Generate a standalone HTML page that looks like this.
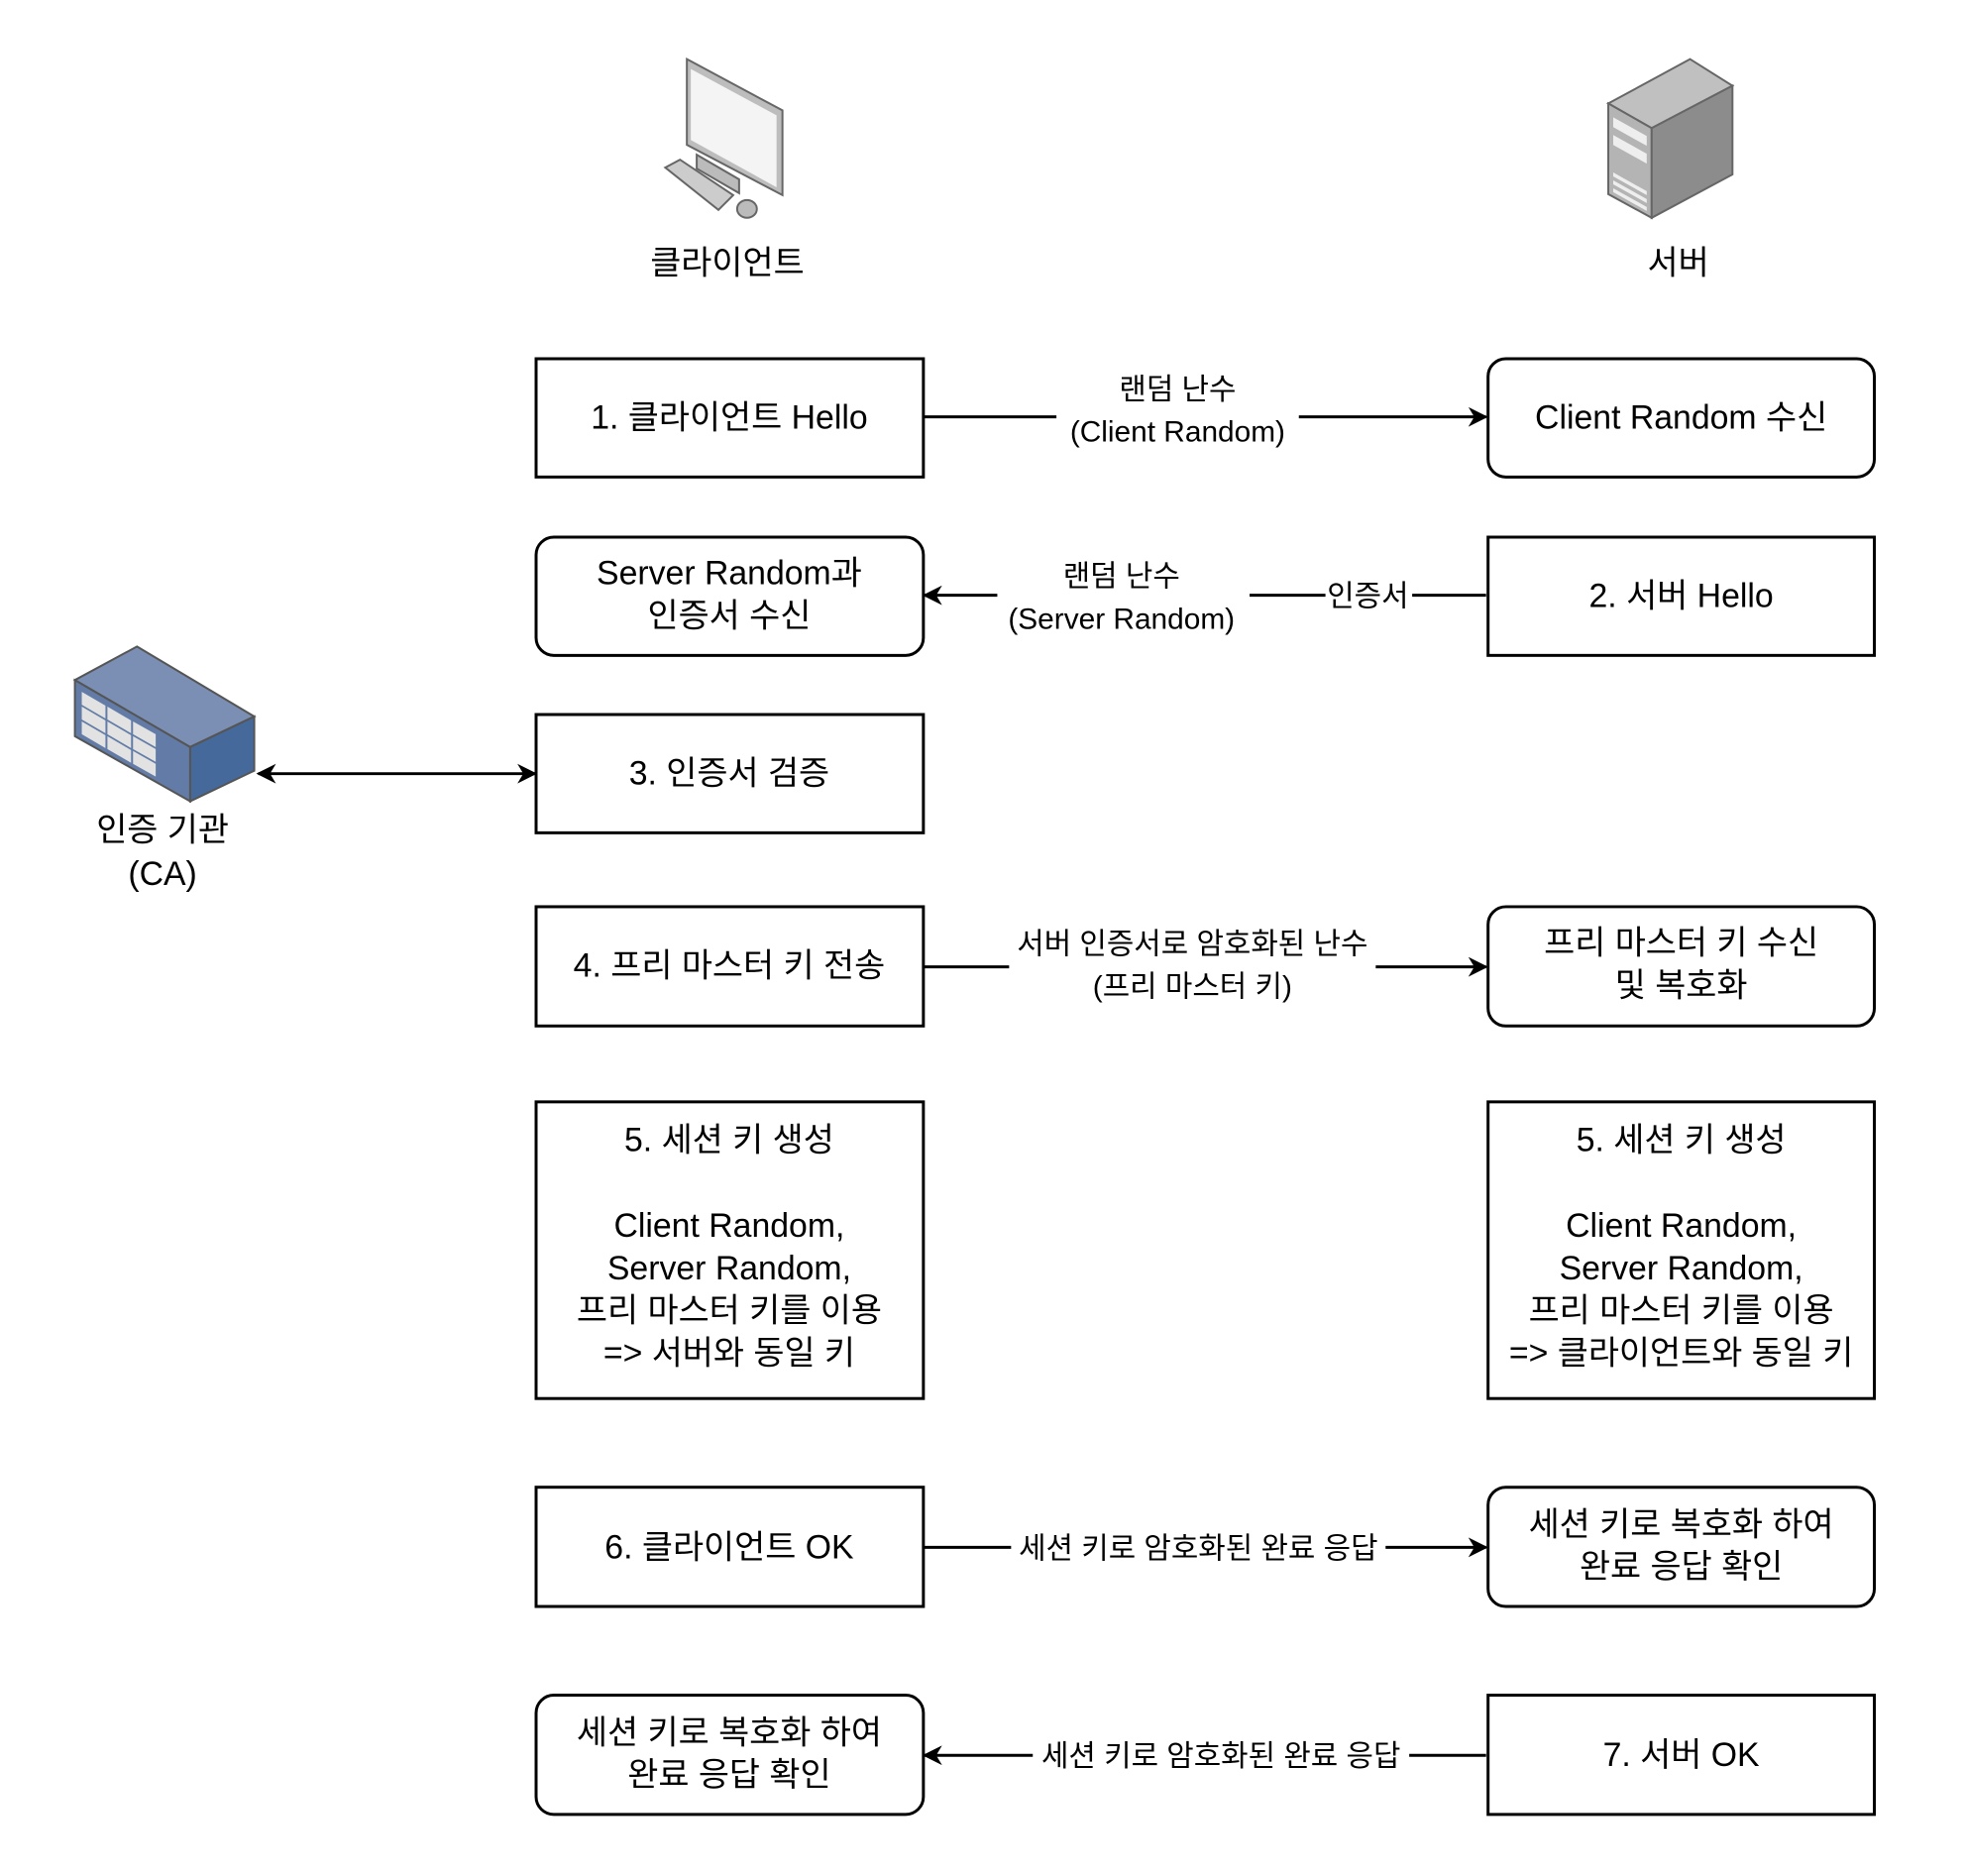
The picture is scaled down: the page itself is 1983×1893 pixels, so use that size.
<!DOCTYPE html>
<html><head><meta charset="utf-8"><style>
html,body{margin:0;padding:0;background:#fff;}
svg{display:block;}
text{font-family:"Liberation Sans","Noto Sans CJK KR","NanumGothic",sans-serif;fill:#000;}
.b{font-size:34px;}
.l{font-size:30px;}
</style></head><body>
<svg width="1983" height="1893" viewBox="0 0 1983 1893" xmlns="http://www.w3.org/2000/svg">
<defs>
<marker id="ar" viewBox="0 0 20 20" refX="18" refY="10" markerWidth="20" markerHeight="20" markerUnits="userSpaceOnUse" orient="auto-start-reverse">
<path d="M0,0 L20,10 L0,20 L6,10 Z" fill="#000"/>
</marker>
</defs>
<g transform="scale(0.9945)">
<!-- client icon -->
<g stroke="#666" stroke-width="2">
<polygon points="697,60 794,112 794,198 697,147" fill="#bdbdbd"/>
<polygon points="701,70 788,117 788,190 701,142" fill="#f4f4f4" stroke="none"/>
<polygon points="707,157 750,182 750,196 707,171" fill="#bbb"/>
<polygon points="675,170 690,162 744,198 729,213" fill="#ccc"/>
<ellipse cx="758" cy="212" rx="10" ry="9" fill="#bbb"/>
</g>
<!-- server icon -->
<g stroke="#666" stroke-width="2">
<polygon points="1715,60 1758,87 1676,130 1632,105" fill="#c0c0c0"/>
<polygon points="1632,105 1676,130 1676,221 1632,197" fill="#b4b4b4"/>
<polygon points="1676,130 1758,87 1758,177 1676,221" fill="#8c8c8c"/>
<g stroke="none" fill="#eee">
<polygon points="1637,119 1671,138 1671,148 1637,129"/>
<polygon points="1637,137 1671,156 1671,166 1637,147"/>
<polygon points="1637,175 1671,194 1671,198 1637,179"/>
<polygon points="1637,183 1671,202 1671,206 1637,187"/>
<polygon points="1637,191 1671,210 1671,214 1637,195"/>
</g>
</g>
<text class="b" x="738" y="278" text-anchor="middle">클라이언트</text>
<text class="b" x="1703" y="278" text-anchor="middle">서버</text>
<!-- CA icon -->
<g stroke="#555" stroke-width="2">
<polygon points="139,656 258,727 193,758 76,690" fill="#7b8fb4"/>
<polygon points="76,690 193,758 193,813 76,747" fill="#627ca7"/>
<polygon points="193,758 258,727 258,782 193,813" fill="#44699a"/>
<g fill="#e2e2e2" stroke="none">
<polygon points="83,702 107,716 107,729 83,715"/>
<polygon points="109,717 133,731 133,744 109,730"/>
<polygon points="135,732 158,745 158,758 135,745"/>
<polygon points="83,717 107,731 107,744 83,730"/>
<polygon points="109,732 133,746 133,759 109,745"/>
<polygon points="135,747 158,760 158,773 135,760"/>
<polygon points="83,732 107,746 107,759 83,745"/>
<polygon points="109,747 133,761 133,774 109,760"/>
<polygon points="135,762 158,775 158,788 135,775"/>
</g>
</g>
<text class="b" x="165" y="853" text-anchor="middle">인증 기관</text>
<text class="b" x="165" y="898" text-anchor="middle">(CA)</text>

<g fill="#fff" stroke="#000" stroke-width="3">
<rect x="544" y="364" width="393" height="120"/>
<rect x="1510" y="364" width="392" height="120" rx="18"/>
<rect x="544" y="545" width="393" height="120" rx="18"/>
<rect x="1510" y="545" width="392" height="120"/>
<rect x="544" y="725" width="393" height="120"/>
<rect x="544" y="920" width="393" height="121"/>
<rect x="1510" y="920" width="392" height="121" rx="18"/>
<rect x="544" y="1118" width="393" height="301"/>
<rect x="1510" y="1118" width="392" height="301"/>
<rect x="544" y="1509" width="393" height="121"/>
<rect x="1510" y="1509" width="392" height="121" rx="18"/>
<rect x="544" y="1720" width="393" height="121" rx="18"/>
<rect x="1510" y="1720" width="392" height="121"/>
</g>

<g stroke="#000" stroke-width="3" fill="none">
<line x1="938" y1="423" x2="1508" y2="423" marker-end="url(#ar)"/>
<line x1="1508" y1="604" x2="938" y2="604" marker-end="url(#ar)"/>
<line x1="262" y1="785" x2="543" y2="785" marker-start="url(#ar)" marker-end="url(#ar)"/>
<line x1="938" y1="981" x2="1508" y2="981" marker-end="url(#ar)"/>
<line x1="938" y1="1570" x2="1508" y2="1570" marker-end="url(#ar)"/>
<line x1="1508" y1="1781" x2="938" y2="1781" marker-end="url(#ar)"/>
</g>
<g fill="#fff">
<rect x="1072" y="370" width="246" height="90"/>
<rect x="1012" y="555" width="256" height="90"/>
<rect x="1345" y="585" width="88" height="40"/>
<rect x="1024" y="935" width="372" height="90"/>
<rect x="1026" y="1550" width="380" height="40"/>
<rect x="1048" y="1761" width="382" height="40"/>
</g>
<g class="l" text-anchor="middle">
<text class="l" x="1195" y="405">랜덤 난수</text>
<text class="l" x="1195" y="448">(Client Random)</text>
<text class="l" x="1138" y="595">랜덤 난수</text>
<text class="l" x="1138" y="638">(Server Random)</text>
<text class="l" x="1388" y="615">인증서</text>
<text class="l" x="1210" y="968">서버 인증서로 암호화된 난수</text>
<text class="l" x="1210" y="1011">(프리 마스터 키)</text>
<text class="l" x="1216" y="1581">세션 키로 암호화된 완료 응답</text>
<text class="l" x="1239" y="1792">세션 키로 암호화된 완료 응답</text>
</g>
<g class="b" text-anchor="middle">
<text class="b" x="740" y="435">1. 클라이언트 Hello</text>
<text class="b" x="1706" y="435">Client Random 수신</text>
<text class="b" x="740" y="593">Server Random과</text>
<text class="b" x="740" y="636">인증서 수신</text>
<text class="b" x="1706" y="616">2. 서버 Hello</text>
<text class="b" x="740" y="796">3. 인증서 검증</text>
<text class="b" x="740" y="991">4. 프리 마스터 키 전송</text>
<text class="b" x="1706" y="968">프리 마스터 키 수신</text>
<text class="b" x="1706" y="1011">및 복호화</text>
<text class="b" x="740" y="1168">5. 세션 키 생성</text>
<text class="b" x="740" y="1255">Client Random,</text>
<text class="b" x="740" y="1298">Server Random,</text>
<text class="b" x="740" y="1341">프리 마스터 키를 이용</text>
<text class="b" x="740" y="1384">=&gt; 서버와 동일 키</text>
<text class="b" x="1706" y="1168">5. 세션 키 생성</text>
<text class="b" x="1706" y="1255">Client Random,</text>
<text class="b" x="1706" y="1298">Server Random,</text>
<text class="b" x="1706" y="1341">프리 마스터 키를 이용</text>
<text class="b" x="1706" y="1384">=&gt; 클라이언트와 동일 키</text>
<text class="b" x="740" y="1581">6. 클라이언트 OK</text>
<text class="b" x="1706" y="1558">세션 키로 복호화 하여</text>
<text class="b" x="1706" y="1601">완료 응답 확인</text>
<text class="b" x="740" y="1769">세션 키로 복호화 하여</text>
<text class="b" x="740" y="1812">완료 응답 확인</text>
<text class="b" x="1706" y="1792">7. 서버 OK</text>
</g>
</g>
</svg>
</body></html>
